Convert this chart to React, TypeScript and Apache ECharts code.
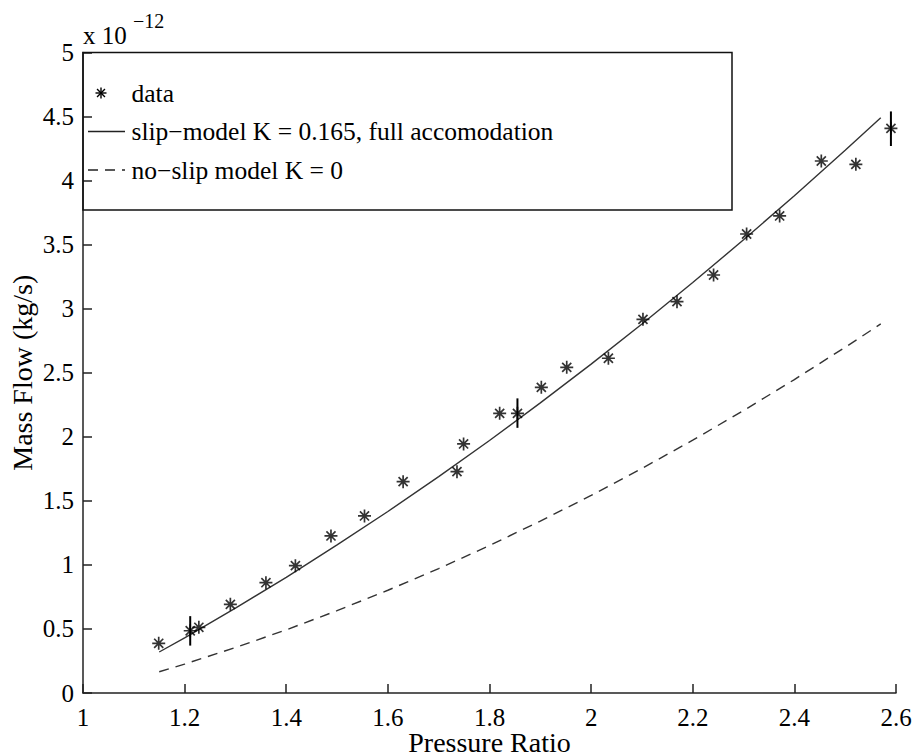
import React, { useEffect, useRef } from "react";
import * as echarts from "echarts";

const dataX = [1.149, 1.211, 1.228, 1.29, 1.36, 1.418, 1.488, 1.554, 1.63, 1.736, 1.749, 1.82, 1.855, 1.902, 1.952, 2.034, 2.102, 2.169, 2.241, 2.306, 2.371, 2.453, 2.521, 2.59];
const dataY = [0.388, 0.486, 0.513, 0.692, 0.861, 0.994, 1.226, 1.382, 1.65, 1.728, 1.944, 2.183, 2.183, 2.386, 2.542, 2.613, 2.917, 3.055, 3.263, 3.583, 3.724, 4.153, 4.127, 4.408];

const errX = [1.211, 1.855, 2.59];
const errLow = [0.37, 2.07, 4.27];
const errHigh = [0.6, 2.3, 4.54];

const modelX = [1.15, 1.2, 1.3, 1.4, 1.5, 1.6, 1.7, 1.8, 1.9, 2.0, 2.1, 2.2, 2.3, 2.4, 2.5, 2.57];
const slipY = [0.32, 0.431, 0.663, 0.903, 1.156, 1.417, 1.689, 1.971, 2.265, 2.567, 2.881, 3.204, 3.538, 3.882, 4.237, 4.49];
const noSlipY = [0.166, 0.226, 0.355, 0.493, 0.643, 0.802, 0.971, 1.151, 1.342, 1.542, 1.753, 1.974, 2.205, 2.447, 2.699, 2.881];

const legendLabels = ["data", "slip\u2212model K = 0.165, full accomodation", "no\u2212slip model K = 0"];
const xName = "Pressure Ratio";
const yName = "Mass Flow (kg/s)";
const exponentBase = "x 10";
const exponentPower = "\u221212";

const FONT = "Liberation Serif";
const STAR = "path://M10 0L10 20M0 10L20 10M3 3L17 17M3 17L17 3";

function starLines(cx: number, cy: number, r: number) {
  const d = r * 0.72;
  const segs = [
    [cx, cy - r, cx, cy + r],
    [cx - r, cy, cx + r, cy],
    [cx - d, cy - d, cx + d, cy + d],
    [cx - d, cy + d, cx + d, cy - d],
  ];
  return segs.map((s) => ({
    type: "line",
    shape: { x1: s[0], y1: s[1], x2: s[2], y2: s[3] },
    style: { stroke: "#000", lineWidth: 1.4 },
  }));
}

function legendText(text: string, x: number, y: number, size: number) {
  return {
    type: "text",
    x,
    y,
    style: { text, fontFamily: FONT, fontSize: size, fill: "#000", verticalAlign: "middle", align: "left" },
    z: 10,
  };
}

export default function App() {
  const ref = useRef<HTMLDivElement>(null);
  useEffect(() => {
    if (!ref.current) return;
    const chart = echarts.init(ref.current, undefined, { renderer: "svg" });
    const gridLeft = 83;
    const gridTop = 52.5;
    const option: any = {
      animation: false,
      backgroundColor: "#fff",
      textStyle: { fontFamily: FONT, color: "#000" },
      grid: {
        left: gridLeft,
        right: 21,
        top: gridTop,
        bottom: 63,
        containLabel: false,
        outerBoundsMode: "none",
      },
      xAxis: {
        type: "value",
        min: 1,
        max: 2.6,
        interval: 0.2,
        name: xName,
        nameLocation: "middle",
        nameGap: 37,
        nameMoveOverlap: false,
        nameTextStyle: { fontFamily: FONT, fontSize: 28, lineHeight: 24, color: "#000" },
        axisLine: { show: true, onZero: false, lineStyle: { color: "#222", width: 1.5 } },
        axisTick: { show: true, inside: true, length: 9, lineStyle: { color: "#222", width: 1.5 } },
        axisLabel: {
          fontFamily: FONT,
          fontSize: 25,
          lineHeight: 22,
          color: "#000",
          margin: 13.5,
          formatter: (v: number) => String(+v.toFixed(1)),
        },
        splitLine: { show: false },
      },
      yAxis: {
        type: "value",
        min: 0,
        max: 5,
        interval: 0.5,
        name: yName,
        nameLocation: "middle",
        nameGap: 47,
        nameMoveOverlap: false,
        nameTextStyle: { fontFamily: FONT, fontSize: 28, color: "#000" },
        axisLine: { show: true, onZero: false, lineStyle: { color: "#222", width: 1.5 } },
        axisTick: { show: true, inside: true, length: 9, lineStyle: { color: "#222", width: 1.5 } },
        axisLabel: {
          fontFamily: FONT,
          fontSize: 25,
          color: "#000",
          margin: 9,
          formatter: (v: number) => String(+v.toFixed(1)),
        },
        splitLine: { show: false },
      },
      series: [
        {
          name: legendLabels[1],
          type: "line",
          data: modelX.map((x, i) => [x, slipY[i]]),
          showSymbol: false,
          symbol: "none",
          lineStyle: { color: "#333", width: 1.4 },
          z: 2,
        },
        {
          name: legendLabels[2],
          type: "line",
          data: modelX.map((x, i) => [x, noSlipY[i]]),
          showSymbol: false,
          symbol: "none",
          lineStyle: { color: "#333", width: 1.4, type: [10, 7] },
          z: 2,
        },
        {
          name: legendLabels[0],
          type: "scatter",
          data: dataX.map((x, i) => [x, dataY[i]]),
          symbol: STAR,
          symbolSize: 13,
          itemStyle: { color: "none", borderColor: "#000", borderWidth: 1.7 },
          z: 3,
        },
        {
          name: "error",
          type: "custom",
          data: errX.map((x, i) => [x, errLow[i], errHigh[i]]),
          encode: { x: 0, y: [1, 2] },
          renderItem: (params: any, api: any) => {
            const p1 = api.coord([api.value(0), api.value(1)]);
            const p2 = api.coord([api.value(0), api.value(2)]);
            return {
              type: "line",
              shape: { x1: p1[0], y1: p1[1], x2: p2[0], y2: p2[1] },
              style: { stroke: "#000", lineWidth: 2 },
            };
          },
          z: 4,
        },
      ],
      graphic: [
        {
          type: "rect",
          shape: { x: gridLeft, y: gridTop, width: 649, height: 157.5 },
          style: { fill: "none", stroke: "#111", lineWidth: 1.5 },
          z: 10,
        },
        ...starLines(101, 93, 5.5).map((l) => ({ ...l, z: 10 })),
        legendText(legendLabels[0], 131.5, 93, 25.5),
        {
          type: "line",
          shape: { x1: 88, y1: 131.5, x2: 125, y2: 131.5 },
          style: { stroke: "#222", lineWidth: 1.4 },
          z: 10,
        },
        legendText(legendLabels[1], 131.5, 131.5, 25.5),
        {
          type: "line",
          shape: { x1: 88, y1: 170, x2: 125, y2: 170 },
          style: { stroke: "#222", lineWidth: 1.4, lineDash: [10, 7] },
          z: 10,
        },
        legendText(legendLabels[2], 131.5, 170, 25.5),
        legendText(exponentBase, 83, 35, 25),
        legendText(exponentPower, 133, 21, 20),
      ],
    };
    chart.setOption(option);
    return () => chart.dispose();
  }, []);
  return (
    <div
      ref={ref}
      style={{ position: "fixed", left: 0, top: 0, width: 917, height: 756, background: "#fff" }}
    />
  );
}
